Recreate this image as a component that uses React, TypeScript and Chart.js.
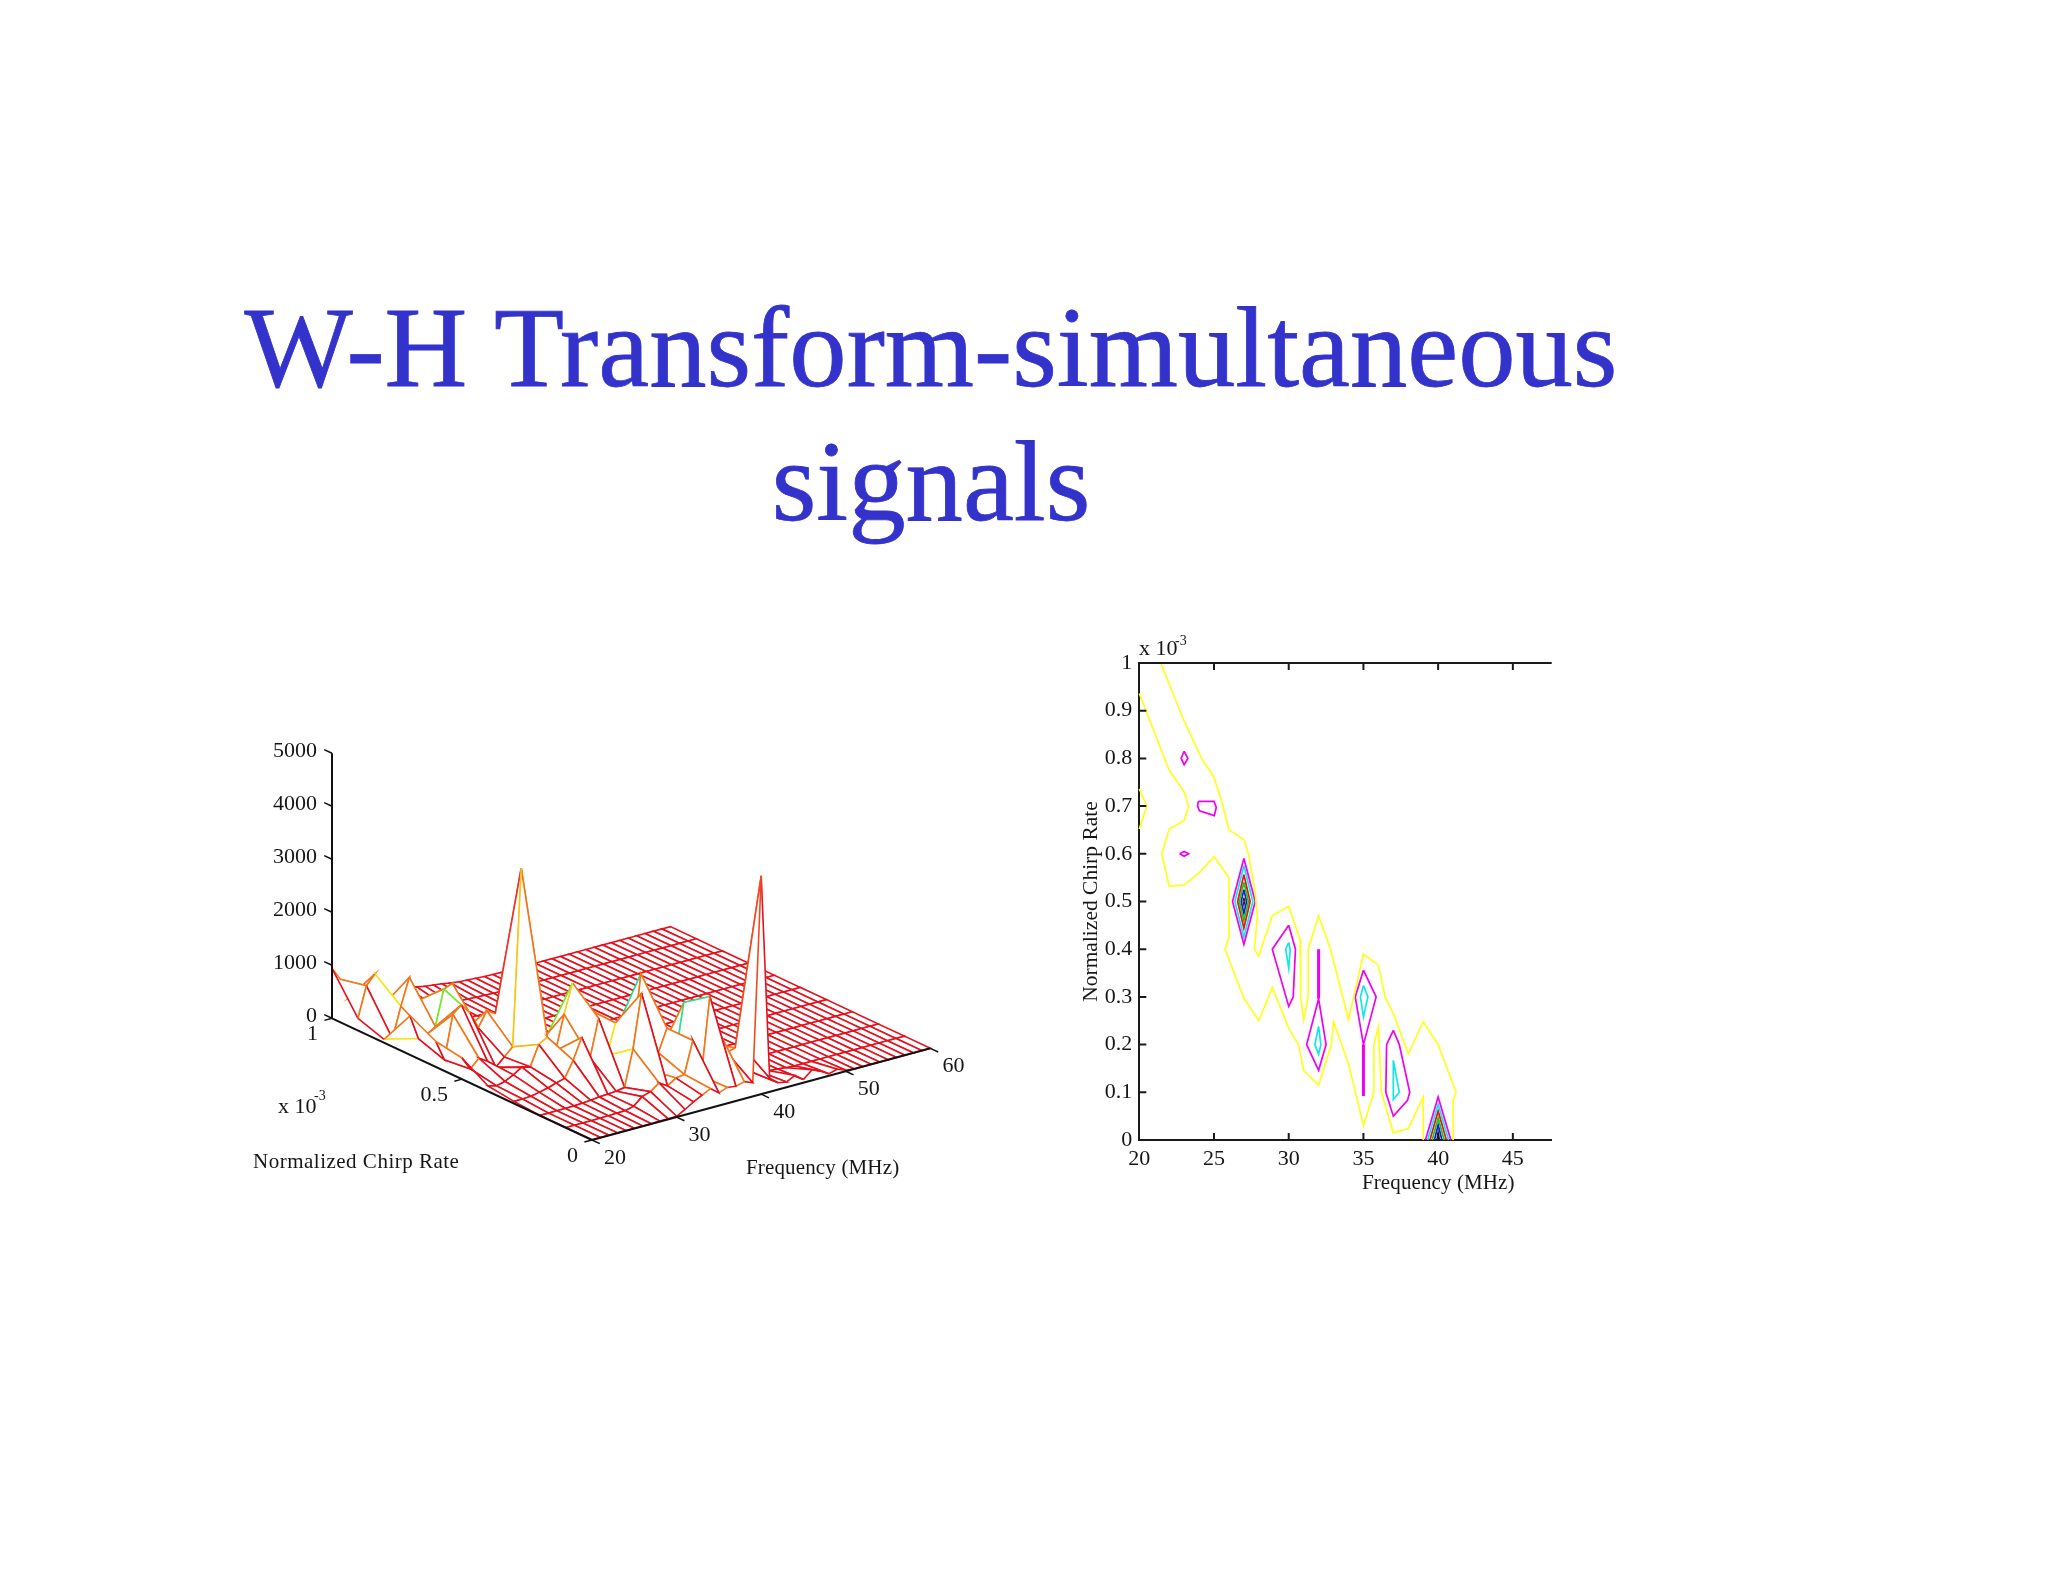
import React, { useEffect, useRef } from "react";
import { Chart, registerables } from "chart.js";

Chart.register(...registerables);

// ---------- 3-D surface data ----------
const frequencies = [20,21,22,23,24,25,26,27,28,29,30,31,32,33,34,35,36,37,38,39,40,41,42,43,44,45,46,47,48,49,50,51,52,53,54,55,56,57,58,59,60];
const rates = [0,0.1,0.2,0.3,0.4,0.5,0.6,0.7,0.8,0.9,1];
const z000 = [5,5,5,5,5,5,5,5,10,10,15,100,200,283,365,239,300,280,323,260,4120,260,130,100,180,60,200,130,40,80,20,0,0,0,0,0,0,0,0,0,0];
const z010 = [5,5,5,5,8,10,15,20,60,200,250,370,272,377,400,1000,286,1742,1060,600,640,600,100,60,40,30,10,0,0,0,0,0,0,0,0,0,0,0,0,0,0];
const z020 = [5,5,5,5,10,20,30,50,60,70,100,780,1790,300,580,1000,400,1400,400,680,500,280,80,40,30,20,10,0,0,0,0,0,0,0,0,0,0,0,0,0,0];
const z030 = [40,40,50,80,120,170,214,510,900,470,1175,430,1000,700,400,1800,830,150,100,60,40,30,20,15,10,0,0,0,0,0,0,0,0,0,0,0,0,0,0,0,0];
const z040 = [100,60,100,180,283,245,623,720,420,1064,1609,250,1020,370,150,470,400,150,100,60,40,30,20,10,0,0,0,0,0,0,0,0,0,0,0,0,0,0,0,0,0];
const z050 = [400,150,308,209,50,200,350,3680,50,258,377,200,277,60,40,30,20,10,0,0,0,0,0,0,0,0,0,0,0,0,0,0,0,0,0,0,0,0,0,0,0];
const z060 = [480,93,907,1040,850,520,800,700,33,60,30,20,15,10,5,0,0,0,0,0,0,0,0,0,0,0,0,0,0,0,0,0,0,0,0,0,0,0,0,0,0];
const z070 = [736,264,300,400,1067,1130,133,100,90,70,50,40,30,20,10,5,0,0,0,0,0,0,0,0,0,0,0,0,0,0,0,0,0,0,0,0,0,0,0,0,0];
const z080 = [63,30,600,1100,620,100,120,100,90,60,40,30,20,10,5,0,0,0,0,0,0,0,0,0,0,0,0,0,0,0,0,0,0,0,0,0,0,0,0,0,0];
const z090 = [226,800,980,350,300,150,120,100,90,80,60,50,40,30,20,15,10,5,0,0,0,0,0,0,0,0,0,0,0,0,0,0,0,0,0,0,0,0,0,0,0];
const z100 = [943,691,300,350,420,250,100,80,160,170,160,130,110,90,60,40,30,20,10,5,0,0,0,0,0,0,0,0,0,0,0,0,0,0,0,0,0,0,0,0,0];
const surface = [z000,z010,z020,z030,z040,z050,z060,z070,z080,z090,z100];

const zTicks = [0,1000,2000,3000,4000,5000];
const rateTicks = [0,0.5,1];
const freqTicks3d = [20,30,40,50,60];

// edges whose colour differs from the height rule: f0, r0, f1, r1, colour
const edgeOverrides: [number,number,number,number,string][] = [
  [23,0.7,24,0.7,"#78e62d"],
  [24,0.7,24,0.6,"#78e62d"],
  [30,0.5,30,0.4,"#78e62d"],
  [29,0.4,30,0.4,"#f5d21e"],
  [35,0.4,35,0.3,"#22dc9c"],
  [35,0.3,36,0.3,"#f0e620"],
  [37,0.2,37,0.1,"#2fe08c"],
  [36,0.2,37,0.2,"#2fe08c"],
  [31,0.3,32,0.3,"#f5e61e"],
  [31,0.3,31,0.2,"#f5e61e"],
  [27,0.5,27,0.6,"#ee3324"],
  [20,0.8,21,0.8,"#f5e61e"],
  [21,0.7,21,0.8,"#f5e61e"],
  [22,0.9,23,0.9,"#f5e61e"],
  [22,0.9,22,0.8,"#f5e61e"],
  [26,0.5,26,0.4,"#f9b81c"],
  [26,0.4,27,0.4,"#f9b81c"],
];

// ---------- contour data (frequency, rate pairs) ----------
const yellowUpper = [[21.43,1],[22.95,0.882],[24.17,0.8],[25,0.76],[25.6,0.7],[26,0.65],[27,0.63],[27.3,0.6],[27.75,0.52],[27.9,0.468],[27.7,0.4],[28,0.386],[28.9,0.47],[30,0.49],[30.76,0.42],[30.8,0.3],[31,0.252],[31.3,0.3],[31.3,0.4],[32,0.47],[32.8,0.4],[34,0.252],[35,0.39],[36,0.366],[36.45,0.3],[37,0.265],[38,0.18],[39,0.248],[40,0.2],[41.2,0.1],[41,0.083],[41,0]];
const yellowLower = [[20,0.936],[22,0.775],[23,0.73],[23.3,0.7],[23,0.67],[22,0.652],[21.5,0.6],[22,0.532],[23,0.535],[24,0.56],[25,0.594],[26,0.55],[26,0.426],[25.74,0.4],[27,0.297],[28,0.25],[28.9,0.32],[30,0.234],[30.65,0.2],[31,0.146],[32,0.115],[32.85,0.2],[33,0.248],[34,0.16],[35,0.03],[35.7,0.1],[35.7,0.2],[36,0.237],[36.2,0.1],[37,0.015],[38,0.024],[39,0.09],[39,0]];
const yellowEdge = [[20,0.736],[20.5,0.7],[20,0.652]];
const magentaLoops = [
  [[23,0.815],[23.25,0.8],[23,0.787],[22.8,0.8],[23,0.815]],
  [[23.95,0.71],[25,0.71],[25.15,0.697],[25.02,0.68],[24.03,0.69],[23.9,0.7],[23.95,0.71]],
  [[22.7,0.6],[23,0.605],[23.3,0.6],[23,0.595],[22.7,0.6]],
  [[27,0.59],[27.76,0.5],[27,0.41],[26.24,0.5],[27,0.59]],
  [[30,0.45],[30.45,0.4],[30.3,0.3],[30,0.28],[28.9,0.4],[30,0.45]],
  [[32,0.296],[32.5,0.2],[32,0.146],[31.2,0.2],[32,0.296]],
  [[35,0.356],[35.85,0.3],[35,0.2],[34.45,0.3],[35,0.356]],
  [[37,0.23],[37.4,0.2],[38.1,0.1],[37.95,0.083],[37,0.05],[36.5,0.1],[36.55,0.2],[37,0.23]],
  [[39.15,0],[40,0.09],[40.85,0]],
];
const magentaRidges = [
  [[32,0.4],[32,0.296]],
  [[35,0.2],[35,0.092]],
];
const cyanLoops = [
  [[27,0.575],[27.6,0.5],[27,0.425],[26.4,0.5],[27,0.575]],
  [[30,0.414],[30.1,0.4],[30,0.36],[29.8,0.4],[30,0.414]],
  [[32,0.238],[32.15,0.2],[32,0.18],[31.75,0.2],[32,0.238]],
  [[35,0.324],[35.3,0.3],[35,0.258],[34.8,0.3],[35,0.324]],
  [[37,0.167],[37.4,0.1],[37,0.085],[37,0.167]],
  [[39.3,0],[40,0.075],[40.7,0]],
];
const redLoops = [
  [[27,0.556],[27.42,0.5],[27,0.444],[26.58,0.5],[27,0.556]],
  [[39.45,0],[40,0.061],[40.55,0]],
];
const greenLoops = [
  [[27,0.54],[27.3,0.5],[27,0.46],[26.7,0.5],[27,0.54]],
  [[39.6,0],[40,0.046],[40.4,0]],
];
const blueLoops = [
  [[27,0.525],[27.18,0.5],[27,0.475],[26.82,0.5],[27,0.525]],
  [[39.75,0],[40,0.032],[40.25,0]],
];
const blackLoops = [
  [[27,0.508],[27.06,0.5],[27,0.492],[26.94,0.5],[27,0.508]],
  [[39.9,0],[40,0.018],[40.1,0]],
];
const contourXTicks = [20,25,30,35,40,45];
const contourYTicks = [0,0.1,0.2,0.3,0.4,0.5,0.6,0.7,0.8,0.9,1];

const SERIF = "'Liberation Serif', serif";
const TEXT = "#161616";

// oblique view of the surface, in px inside the 760x500 canvas
function project(f: number, r: number, z: number) {
  const d = f - 20;
  return {
    x: 362 + d * 8.46 - r * 260,
    y: 420 - d * 2.292 - r * 121.7 - z * 0.053,
  };
}

function heightColor(z: number) {
  if (z < 300) return "#e8101c";
  if (z < 2000) return "#f4761a";
  if (z < 4000) return "#fbc41a";
  return "#f04a1e";
}

function overrideFor(f0: number, r0: number, f1: number, r1: number) {
  const hit = edgeOverrides.find(
    (e) =>
      (e[0] === f0 && Math.abs(e[1] - r0) < 1e-6 && e[2] === f1 && Math.abs(e[3] - r1) < 1e-6) ||
      (e[0] === f1 && Math.abs(e[1] - r1) < 1e-6 && e[2] === f0 && Math.abs(e[3] - r0) < 1e-6)
  );
  return hit ? hit[4] : null;
}

function buildSurfaceDatasets() {
  const sets: any[] = [];
  // far to near
  for (let ri = rates.length - 2; ri >= 0; ri--) {
    for (let ci = frequencies.length - 2; ci >= 0; ci--) {
      const corners = [
        [ci, ri],
        [ci + 1, ri],
        [ci + 1, ri + 1],
        [ci, ri + 1],
      ];
      const pts = corners.map(([c, r]) => project(frequencies[c], rates[r], surface[r][c]));
      sets.push({
        data: [...pts, pts[0]],
        showLine: true,
        pointRadius: 0,
        borderWidth: 0,
        borderColor: "rgba(0,0,0,0)",
        backgroundColor: "#ffffff",
        fill: "shape",
        tension: 0,
      });
      const f0 = frequencies[ci], f1 = frequencies[ci + 1], r0 = rates[ri], r1 = rates[ri + 1];
      const colors = [
        overrideFor(f0, r0, f1, r0) || heightColor(surface[ri][ci + 1]),
        overrideFor(f1, r0, f1, r1) || heightColor(surface[ri][ci + 1]),
        overrideFor(f0, r1, f1, r1) || heightColor(surface[ri + 1][ci + 1]),
        overrideFor(f0, r0, f0, r1) || heightColor(surface[ri][ci]),
      ];
      sets.push({
        data: [...pts, pts[0]],
        showLine: true,
        pointRadius: 0,
        borderWidth: 1.6,
        fill: false,
        tension: 0,
        borderColor: colors[0],
        segment: { borderColor: (ctx: any) => colors[ctx.p0DataIndex] },
      });
    }
  }
  const axis = (a: any, b: any, w = 2) => ({
    data: [a, b],
    showLine: true,
    pointRadius: 0,
    borderWidth: w,
    borderColor: "#111",
    fill: false,
    tension: 0,
  });
  const axes: any[] = [
    axis(project(20, 1, 0), project(20, 1, 5000)),
    axis(project(20, 1, 0), project(20, 0, 0)),
    axis(project(20, 0, 0), project(60, 0, 0)),
  ];
  zTicks.forEach((v) => axes.push(axis(project(20, 1, v), project(20, 1.03, v), 1.5)));
  rateTicks.forEach((v) => axes.push(axis(project(20, v, 0), project(19.1, v, 0), 1.5)));
  freqTicks3d.forEach((v) => axes.push(axis(project(v, 0, 0), project(v, -0.03, 0), 1.5)));
  // first dataset is painted last in Chart.js
  return [...axes, ...sets.reverse()];
}

const surfaceLabels = {
  id: "surfaceLabels",
  afterDraw(chart: any) {
    const ctx = chart.ctx;
    const sx = chart.scales.x, sy = chart.scales.y;
    const put = (t: string, x: number, y: number, align: CanvasTextAlign = "center", size = 22, sp = "0px") => {
      ctx.font = `${size}px ${SERIF}`;
      ctx.letterSpacing = sp;
      ctx.textAlign = align;
      ctx.textBaseline = "middle";
      ctx.fillStyle = TEXT;
      ctx.fillText(t, x, y);
    };
    const at = (p: { x: number; y: number }) => ({ x: sx.getPixelForValue(p.x), y: sy.getPixelForValue(p.y) });
    ctx.save();
    zTicks.forEach((v) => {
      const p = at(project(20, 1, v));
      put(String(v), p.x - 15, p.y - 2, "right");
    });
    rateTicks.forEach((v) => {
      const p = at(project(20, v, 0));
      put(String(v), p.x - 14, p.y + 16, "right");
    });
    freqTicks3d.forEach((v) => {
      const p = at(project(v, 0, 0));
      put(String(v), p.x + 23, p.y + 18);
    });
    put("x 10", 48, 387, "left", 22);
    put("-3", 84, 376, "left", 14);
    put("Normalized Chirp Rate", 23, 442, "left", 21, "0.5px");
    put("Frequency (MHz)", 516, 448, "left", 21, "0.15px");
    ctx.restore();
  },
};

const contourDecor = {
  id: "contourDecor",
  afterDraw(chart: any) {
    const { ctx, chartArea: a, scales } = chart;
    ctx.save();
    ctx.strokeStyle = "#1a1a1a";
    ctx.lineWidth = 2;
    ctx.beginPath();
    ctx.moveTo(a.left - 1, a.top);
    ctx.lineTo(a.right, a.top);
    contourXTicks.forEach((v) => {
      if (v === 20) return;
      const x = scales.x.getPixelForValue(v);
      ctx.moveTo(x, a.top);
      ctx.lineTo(x, a.top + 7);
      ctx.moveTo(x, a.bottom);
      ctx.lineTo(x, a.bottom - 7);
    });
    contourYTicks.forEach((v) => {
      const y = scales.y.getPixelForValue(v);
      ctx.moveTo(a.left, y);
      ctx.lineTo(a.left + 7, y);
    });
    ctx.stroke();
    ctx.fillStyle = TEXT;
    ctx.textBaseline = "middle";
    ctx.textAlign = "left";
    ctx.font = `22px ${SERIF}`;
    ctx.fillText("x 10", 69, 29);
    ctx.font = `14px ${SERIF}`;
    ctx.fillText("-3", 105, 21);
    ctx.font = `21px ${SERIF}`;
    ctx.letterSpacing = "0.1px";
    ctx.fillText("Frequency (MHz)", 292, 563);
    ctx.restore();
  },
};

function lineSet(points: number[][], color: string, width = 1.7) {
  return {
    data: points.map(([x, y]) => ({ x, y })),
    showLine: true,
    pointRadius: 0,
    borderColor: color,
    borderWidth: width,
    fill: false,
    tension: 0,
    clip: false,
  };
}

const contourDatasets = [
  lineSet(yellowUpper, "#ffff1e"),
  lineSet(yellowLower, "#ffff1e"),
  lineSet(yellowEdge, "#ffff1e"),
  ...magentaLoops.map((p) => lineSet(p, "#f000f0")),
  ...magentaRidges.map((p) => lineSet(p, "#f000f0", 3)),
  ...cyanLoops.map((p) => lineSet(p, "#14e6e6")),
  ...redLoops.map((p) => lineSet(p, "#e01818")),
  ...greenLoops.map((p) => lineSet(p, "#18c818")),
  ...blueLoops.map((p) => lineSet(p, "#1818d8")),
  ...blackLoops.map((p) => lineSet(p, "#202020", 1.2)),
];

export default function App() {
  const leftRef = useRef<HTMLCanvasElement>(null);
  const rightRef = useRef<HTMLCanvasElement>(null);

  useEffect(() => {
    const left = new Chart(leftRef.current as HTMLCanvasElement, {
      type: "scatter",
      data: { datasets: buildSurfaceDatasets() },
      plugins: [surfaceLabels],
      options: {
        animation: false,
        responsive: false,
        devicePixelRatio: 1,
        layout: { padding: 0 },
        plugins: { legend: { display: false }, tooltip: { enabled: false }, title: { display: false } },
        scales: {
          x: { type: "linear", display: false, min: 0, max: 760 },
          y: { type: "linear", display: false, min: 0, max: 500, reverse: true },
        },
      } as any,
    });
    const right = new Chart(rightRef.current as HTMLCanvasElement, {
      type: "scatter",
      data: { datasets: contourDatasets as any },
      plugins: [contourDecor],
      options: {
        animation: false,
        responsive: false,
        devicePixelRatio: 1,
        layout: { padding: { left: 0, top: 43, right: 28.3, bottom: 0 } },
        plugins: { legend: { display: false }, tooltip: { enabled: false }, title: { display: false } },
        scales: {
          x: {
            type: "linear",
            min: 20,
            max: 47.6,
            grid: { display: false, drawTicks: false },
            border: { display: true, color: "#1a1a1a", width: 2 },
            afterBuildTicks: (s: any) => { s.ticks = contourXTicks.map((value) => ({ value })); },
            afterFit: (s: any) => { s.height = 90; },
            ticks: { color: TEXT, font: { family: SERIF, size: 22 }, padding: 6, maxRotation: 0, autoSkip: false },
          },
          y: {
            type: "linear",
            min: 0,
            max: 1,
            grid: { display: false, drawTicks: false },
            border: { display: true, color: "#1a1a1a", width: 2 },
            afterBuildTicks: (s: any) => { s.ticks = contourYTicks.map((value) => ({ value })); },
            afterFit: (s: any) => { s.width = 69.3; },
            ticks: {
              color: TEXT,
              font: { family: SERIF, size: 22 },
              padding: 7,
              autoSkip: false,
              callback: (v: any) => String(+Number(v).toFixed(1)),
            },
            title: {
              display: true,
              text: "Normalized Chirp Rate",
              color: TEXT,
              font: { family: SERIF, size: 21.5 },
              padding: { top: 8, bottom: 0 },
            },
          },
        },
      } as any,
    });
    return () => {
      left.destroy();
      right.destroy();
    };
  }, []);

  return (
    <div style={{ position: "absolute", left: 0, top: 0, width: 2048, height: 1582, background: "#fff", overflow: "hidden" }}>
      <div
        style={{
          position: "absolute",
          left: 0,
          width: 1862,
          top: 281,
          textAlign: "center",
          fontFamily: SERIF,
          fontSize: 114.7,
          lineHeight: "134px",
          color: "#3333cc",
          WebkitTextStroke: "0.8px #3333cc",
        }}
      >
        W-H Transform-simultaneous
        <br />
        signals
      </div>
      <canvas ref={leftRef} width={760} height={500} style={{ position: "absolute", left: 230, top: 720 }} />
      <canvas ref={rightRef} width={510} height={610} style={{ position: "absolute", left: 1070, top: 620 }} />
    </div>
  );
}
